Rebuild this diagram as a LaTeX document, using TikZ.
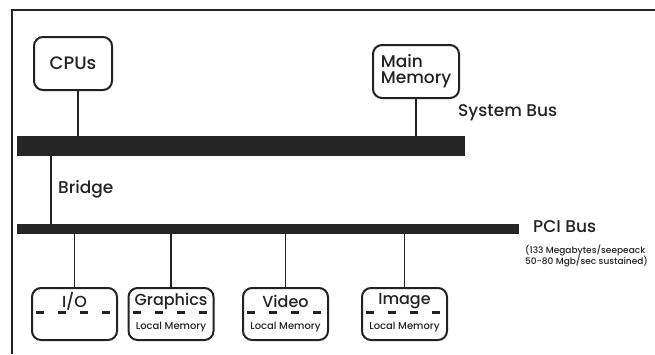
\documentclass[tikz,border=0pt]{standalone}
\usepackage{fontspec}
\setmainfont{Poppins}[UprightFont=* Medium]
\usetikzlibrary{positioning}
\definecolor{ink}{HTML}{222222}
\definecolor{busfill}{HTML}{252525}
\tikzset{
	unit/.style={draw=ink,line width=2pt,rounded corners=9pt,inner sep=0pt,text=ink},
	bus/.style={fill=busfill,draw=none,inner sep=0pt,anchor=north west},
	wire/.style={draw=ink,line width=1.6pt},
	busname/.style={text=ink,font=\fontsize{17}{17}\selectfont,anchor=west,inner sep=0pt},
	memsplit/.style={draw=ink,line width=3pt,dash pattern=on 8pt off 14pt},
	tag/.style={text=ink,inner sep=0pt}
}
\begin{document}
\begin{tikzpicture}[x=1pt,y=-1pt]
	\useasboundingbox (0,0) rectangle (655,354);
	\draw[ink,line width=2pt] (655,10) -- (12,10) -- (12,354);
	% top units
	\node[unit,minimum width=78pt,minimum height=53pt,font=\fontsize{18}{18}\selectfont] (cpu) at (73,63.5) {CPUs};
	\node[unit,minimum width=86pt,minimum height=53pt,align=left,font=\fontsize{17}{16}\selectfont] (mainmem) at (416,71.5) {Main\\Memory};
	% buses
	\node[bus,minimum width=448pt,minimum height=20pt] (sysbus) at (17,136) {};
	\node[bus,minimum width=502pt,minimum height=10pt] (pcibus) at (17,224) {};
	\node[busname] (syslabel) at (458,113) {System Bus};
	\node[busname] (bridgelabel) at (58,189) {Bridge};
	\node[busname] (pcilabel) at (533,227) {PCI Bus};
	\node[tag,anchor=north west,align=left,font=\fontsize{9}{11}\selectfont] (pcirate) at (525,245) {(133 Megabytes/seepeack\\50-80 Mgb/sec sustained)};
	\coordinate (cputap) at ([xshift=5pt]cpu.south);
	\draw[wire] (cputap) -- (cputap |- sysbus.north);
	\draw[wire] (mainmem.south) -- (mainmem.south |- sysbus.north);
	\coordinate (bridgetap) at ([xshift=34pt]sysbus.south west);
	\draw[wire] (bridgetap) -- (bridgetap |- pcibus.north);
	% cards on the PCI bus
	\foreach \name/\cx/\lbl/\local in {io/74.5/{I/O}/,gfx/171/Graphics/Local Memory,video/285.5/Video/Local Memory,image/404.5/Image/Local Memory}{
		\node[unit,minimum width=85pt,minimum height=52pt] (\name) at (\cx,314) {};
		\node[tag,font=\fontsize{16}{16}\selectfont] (\name-title) at (\cx,301) {\lbl};
		\node[tag,font=\fontsize{10}{10}\selectfont] (\name-local) at (\cx,327) {\local};
		\draw[memsplit] ([xshift=5pt,yshift=2pt]\name.west) -- ([xshift=-5pt,yshift=2pt]\name.east);
		\draw[wire] (\name.north) -- (\name.north |- pcibus.south);
	}
\end{tikzpicture}
\end{document}
